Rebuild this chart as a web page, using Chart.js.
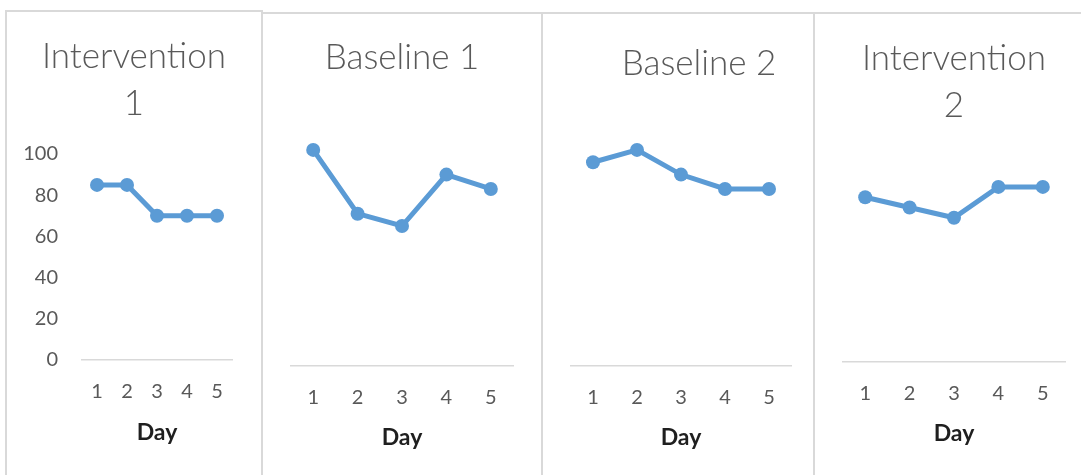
<!DOCTYPE html>
<html>
<head>
<meta charset="utf-8">
<script src="https://cdn.jsdelivr.net/npm/chart.js@4.4.1/dist/chart.umd.min.js"></script>
<style>
  html, body { margin: 0; padding: 0; background: #ffffff; }
  body { position: relative; width: 1081px; height: 475px; overflow: hidden; }
  .frame { position: absolute; height: 520px; border-left: 2px solid #d9d9d9; border-top: 2px solid #d9d9d9; box-sizing: border-box; }
  canvas { position: absolute; top: 0; }
</style>
</head>
<body>
<div class="frame" style="left:5px; top:10px; width:258px;"></div>
<div class="frame" style="left:261px; top:12px; width:282px;"></div>
<div class="frame" style="left:541px; top:12px; width:274px;"></div>
<div class="frame" style="left:813px; top:12px; width:280px;"></div>

<canvas id="c1" width="262" height="475" style="left:0px"></canvas>
<canvas id="c2" width="280" height="475" style="left:262px"></canvas>
<canvas id="c3" width="288" height="475" style="left:542px"></canvas>
<canvas id="c4" width="268" height="475" style="left:813px"></canvas>

<script>
// ---- data ----
const days = ['1', '2', '3', '4', '5'];
const intervention1 = [85, 85, 70, 70, 70];
const baseline1 = [105, 74, 68, 93, 86];
const baseline2 = [99, 105, 93, 86, 86];
const intervention2 = [80, 75, 70, 85, 85];
const titles = [['Intervention', '1'], 'Baseline 1', 'Baseline 2', ['Intervention', '2']];
const xTitle = 'Day';

// ---- styling ----
const LINE = '#5B9BD5';
const TEXT = '#595959';
const FONT = 'Lato, "Open Sans", sans-serif';

function makeChart(id, values, title, o) {
  const scales = {
    x: {
      type: 'category',
      offset: true,
      grid: { display: false, drawTicks: false },
      border: { display: true, color: '#d9d9d9', width: 1.5 },
      ticks: { color: TEXT, font: { family: FONT, size: 20 }, padding: 20, maxRotation: 0, autoSkip: false },
      title: { display: true, text: xTitle, color: '#1f1f1f', font: { family: FONT, size: 23, weight: 'bold' }, padding: { top: 0, bottom: o.dayPad } },
      afterFit: (s) => { s.height = o.xHeight; }
    },
    y: {
      min: 0, max: o.yMax,
      position: 'left',
      display: o.yDisplay,
      grid: { display: false, drawTicks: false },
      border: { display: false },
      ticks: { display: o.yTicks, stepSize: 20, color: TEXT, font: { family: FONT, size: 20 }, padding: 24 },
      afterFit: (s) => { if (o.yWidth !== undefined) s.width = o.yWidth; }
    }
  };
  if (o.rightW) {
    // empty spacer axis on the right, used only to shift the chart area inside the panel
    scales.spacer = {
      type: 'linear',
      position: 'right',
      display: true,
      grid: { display: false, drawTicks: false },
      border: { display: false },
      ticks: { display: false },
      afterFit: (s) => { s.width = o.rightW; }
    };
  }
  return new Chart(document.getElementById(id), {
    type: 'line',
    data: {
      labels: days,
      datasets: [{
        data: values,
        yAxisID: 'y',
        borderColor: LINE,
        backgroundColor: LINE,
        borderWidth: 5,
        pointRadius: 7,
        pointBorderWidth: 0,
        pointBackgroundColor: LINE,
        tension: 0,
        fill: false,
        clip: false
      }]
    },
    options: {
      responsive: false,
      animation: false,
      devicePixelRatio: 1,
      layout: { padding: { left: o.pl, right: o.pr, top: 0, bottom: 0 } },
      plugins: {
        legend: { display: false },
        tooltip: { enabled: false },
        title: {
          display: true,
          text: title,
          color: TEXT,
          font: { family: FONT, size: 35, weight: '300', lineHeight: o.titleLH },
          padding: { top: o.tTop, bottom: o.tBottom }
        }
      },
      scales: scales
    }
  });
}

makeChart('c1', intervention1, titles[0], {
  pl: 16, pr: 10, rightW: 20, yMax: 100, yDisplay: true, yTicks: true, yWidth: 66,
  titleLH: '47px', tTop: 33, tBottom: 27, xHeight: 115, dayPad: 29
});
makeChart('c2', baseline1, titles[1], {
  pl: 29, pr: 29, yMax: 120, yDisplay: false, yTicks: false,
  titleLH: '42px', tTop: 37, tBottom: 40, xHeight: 109, dayPad: 24
});
makeChart('c3', baseline2, titles[2], {
  pl: 29, pr: 3, rightW: 36, yMax: 120, yDisplay: false, yTicks: false,
  titleLH: '42px', tTop: 43, tBottom: 34, xHeight: 109, dayPad: 24
});
makeChart('c4', intervention2, titles[3], {
  pl: 30, pr: 16, yMax: 100, yDisplay: false, yTicks: false,
  titleLH: '47px', tTop: 35, tBottom: 27, xHeight: 113, dayPad: 28
});
</script>
</body>
</html>
